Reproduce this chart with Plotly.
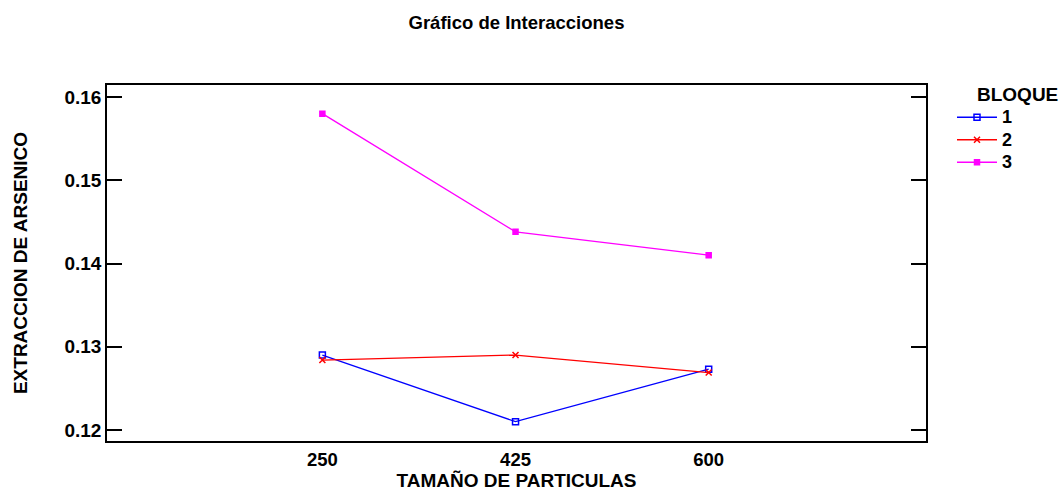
import plotly.graph_objects as go

# Particle size levels (x categories)
tamanos = ["250", "425", "600"]

# Arsenic extraction per block
bloque_1 = [0.1290, 0.1210, 0.1273]
bloque_2 = [0.1284, 0.1290, 0.1269]
bloque_3 = [0.1580, 0.1438, 0.1410]

series = [
    ("1", bloque_1, "#0000ff", "square-open", 6),
    ("2", bloque_2, "#ff0000", "x-thin-open", 6),
    ("3", bloque_3, "#ff00ff", "square", 5),
]

bold = dict(family="Liberation Sans, Arial, sans-serif", color="#000000", weight="bold")

fig = go.Figure()
for name, vals, color, sym, size in series:
    fig.add_trace(go.Scatter(
        x=tamanos, y=vals, name=f"<span style='font-size:18px'>{name}</span>",
        mode="lines+markers",
        line=dict(color=color, width=1.3),
        marker=dict(symbol=sym, size=size, color=color,
                    line=dict(color=color, width=1.5)),
    ))

fig.update_layout(
    width=1064, height=494,
    margin=dict(l=107, r=138, t=85, b=53),
    paper_bgcolor="white", plot_bgcolor="white",
    title=dict(text="Gráfico de Interacciones", x=(107 + 926) / 2 / 1064, xanchor="center",
               y=1 - 23 / 494, yanchor="middle", font=dict(size=18.5, **bold)),
    xaxis=dict(
        type="category", range=[-1.115, 3.125], automargin=False,
        showline=True, linecolor="#000000", linewidth=1.5, mirror=True,
        ticks="", showgrid=False, zeroline=False,
        tickfont=dict(size=18.5, **bold), ticklabelstandoff=1,
        title=dict(text="TAMAÑO DE PARTICULAS", font=dict(size=19, **bold), standoff=0),
    ),
    yaxis=dict(
        range=[0.11868, 0.16144], automargin=False,
        tickvals=[0.12, 0.13, 0.14, 0.15, 0.16],
        ticktext=["0.12", "0.13", "0.14", "0.15", "0.16"],
        showline=True, linecolor="#000000", linewidth=1.5, mirror="ticks",
        ticks="inside", ticklen=15, tickwidth=1.5, tickcolor="#000000",
        showgrid=False, zeroline=False,
        tickfont=dict(size=19, **bold),
        title=dict(text="EXTRACCION DE ARSENICO", font=dict(size=19, **bold), standoff=32),
    ),
    legend=dict(
        x=(952 - 107) / 819, xanchor="left", y=1 - (101 - 85) / 356, yanchor="top",
        font=dict(size=15, **bold), tracegroupgap=0, itemwidth=40,
        bgcolor="rgba(0,0,0,0)",
    ),
    annotations=[dict(
        text="BLOQUE", xref="paper", yref="paper",
        x=(975 - 107) / 819, xanchor="left", y=1 - (95 - 85) / 356, yanchor="middle",
        showarrow=False, font=dict(size=19, **bold),
    )],
)

fig.write_html("out.html")
